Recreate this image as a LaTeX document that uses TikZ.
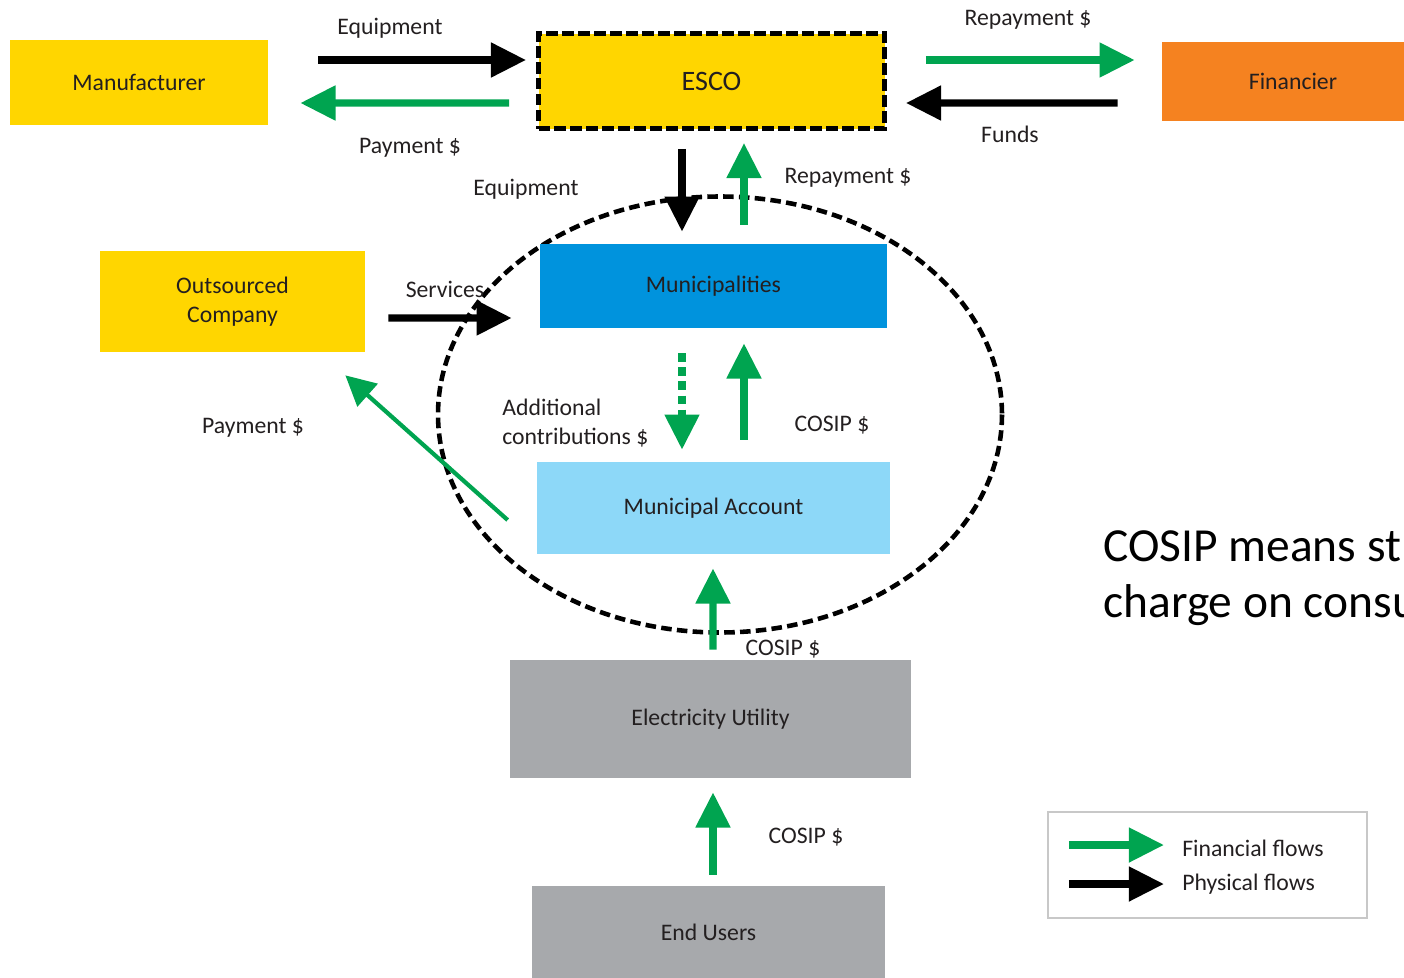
\documentclass[tikz,border=0pt]{standalone}
\usepackage{fontspec}
\setmainfont{Carlito}
\usetikzlibrary{arrows.meta}
\definecolor{boxyellow}{RGB}{255,214,0}
\definecolor{finorange}{RGB}{245,130,32}
\definecolor{cityblue}{RGB}{0,147,221}
\definecolor{acctblue}{RGB}{141,216,248}
\definecolor{utilgray}{RGB}{167,169,172}
\definecolor{flowgreen}{RGB}{0,164,80}
\definecolor{ink}{RGB}{35,31,32}
\definecolor{legendgray}{RGB}{200,200,200}
\newlength\pxu
\setlength\pxu{0.2mm}
\newcommand\lbl{\fontsize{13.5}{16.5}\selectfont}
\tikzstyle{entity} = [rectangle, inner sep=0pt, align=center, text=ink, font=\lbl]
\tikzstyle{flowlabel} = [inner sep=0pt, align=left, text=ink, font=\lbl]
\tikzstyle{finArrow} = [draw=flowgreen, line width=4pt, -{Triangle[length=20pt,width=19pt]}]
\tikzstyle{phyArrow} = [draw=black, line width=4pt, -{Triangle[length=20pt,width=19pt]}]
\tikzstyle{thinFin} = [draw=flowgreen, line width=2.4pt, -{Triangle[length=17pt,width=17pt]}]
\tikzstyle{escoBorder} = [draw=black, line width=2.8pt, dash pattern=on 6.5pt off 2.6pt]
\tikzstyle{cityRing} = [draw=black, line width=2.6pt, dash pattern=on 6pt off 3pt]

\begin{document}
\begin{tikzpicture}[x=0.2mm, y=-0.2mm]
  \useasboundingbox (0,0) rectangle (1404,978);
  \clip (0,0) rectangle (1404,978);

  % municipality ring
  \draw[cityRing] (720,414.5) ellipse [x radius=282, y radius=218];

  % boxes
  \node[entity, fill=boxyellow, minimum width=258\pxu, minimum height=85\pxu] (manu) at (139,82.5) {Manufacturer};
  \node[entity, fill=boxyellow, escoBorder, minimum width=346\pxu, minimum height=95\pxu, font=\fontsize{16}{19}\selectfont] (esco) at (711.5,81) {ESCO};
  \node[entity, fill=finorange, minimum width=262\pxu, minimum height=79\pxu] (fin) at (1293,81.5) {Financier};
  \node[entity, fill=boxyellow, minimum width=265\pxu, minimum height=101\pxu] (outs) at (232.5,301.5) {Outsourced\\Company};
  \node[entity, fill=cityblue, minimum width=347\pxu, minimum height=84\pxu] (mun) at (713.5,286) {Municipalities};
  \node[entity, fill=acctblue, minimum width=353\pxu, minimum height=92\pxu] (acct) at (713.5,508) {Municipal Account};
  \node[entity, fill=utilgray, minimum width=401\pxu, minimum height=118\pxu] (util) at (710.5,719) {Electricity Utility};
  \node[entity, fill=utilgray, minimum width=353\pxu, minimum height=92\pxu] (users) at (708.5,932) {End Users};

  % flows along the top row
  \draw[phyArrow] ([xshift=50\pxu,yshift=22.5\pxu]manu.east) -- ([xshift=-10\pxu,yshift=21\pxu]esco.west);
  \draw[finArrow] ([xshift=-27\pxu,yshift=-22\pxu]esco.west) -- ([xshift=32\pxu,yshift=-20.5\pxu]manu.east);
  \draw[finArrow] ([xshift=39\pxu,yshift=21\pxu]esco.east) -- ([xshift=-27\pxu,yshift=21.5\pxu]fin.west);
  \draw[phyArrow] ([xshift=-44\pxu,yshift=-21.5\pxu]fin.west) -- ([xshift=19\pxu,yshift=-22\pxu]esco.east);

  % flows inside the ring
  \draw[phyArrow] ([xshift=-29.5\pxu,yshift=-18\pxu]esco.south) -- ([xshift=-31.5\pxu,yshift=12\pxu]mun.north);
  \draw[finArrow] ([xshift=30.5\pxu,yshift=19\pxu]mun.north) -- ([xshift=32.5\pxu,yshift=-12\pxu]esco.south);
  \draw[phyArrow] ([xshift=23\pxu,yshift=-16.5\pxu]outs.east) -- ([xshift=-28\pxu,yshift=-32\pxu]mun.west);
  \draw[finArrow, dash pattern=on 5pt off 3pt] ([xshift=-31.5\pxu,yshift=-25\pxu]mun.south) -- ([xshift=-31.5\pxu,yshift=12\pxu]acct.north);
  \draw[finArrow] ([xshift=30.5\pxu,yshift=22\pxu]acct.north) -- ([xshift=30.5\pxu,yshift=-15\pxu]mun.south);
  \draw[thinFin] ([xshift=-29\pxu,yshift=-12\pxu]acct.west) -- ([xshift=-20\pxu,yshift=-23\pxu]outs.south east);

  % flows from below
  \draw[finArrow] ([xshift=2.5\pxu,yshift=10\pxu]util.north) -- ([xshift=-0.5\pxu,yshift=-14\pxu]acct.south);
  \draw[finArrow] ([xshift=4.5\pxu,yshift=11\pxu]users.north) -- ([xshift=2.5\pxu,yshift=-14\pxu]util.south);

  % labels
  \node[flowlabel] (eqTop) at (390,28) {Equipment};
  \node[flowlabel] (payTop) at (410,148) {Payment \$};
  \node[flowlabel] (repTop) at (1028,20) {Repayment \$};
  \node[flowlabel] (funds) at (1010,134) {Funds};
  \node[flowlabel] (eqMid) at (526,189) {Equipment};
  \node[flowlabel] (repMid) at (848,178) {Repayment \$};
  \node[flowlabel] (serv) at (445,289) {Services};
  \node[flowlabel, anchor=west] (addc) at (502,423) {Additional\\contributions \$};
  \node[flowlabel] (cosipA) at (832,425) {COSIP \$};
  \node[flowlabel] (payLeft) at (253,428) {Payment \$};
  \node[flowlabel] (cosipB) at (783,649) {COSIP \$};
  \node[flowlabel] (cosipC) at (806,837) {COSIP \$};

  % legend
  \node[draw=legendgray, line width=1.2pt, minimum width=319\pxu, minimum height=106\pxu, inner sep=0pt] (legend) at (1207.5,865) {};
  \draw[finArrow] ([xshift=22\pxu,yshift=20\pxu]legend.west) -- ([xshift=117\pxu,yshift=20\pxu]legend.west);
  \draw[phyArrow] ([xshift=22\pxu,yshift=-19\pxu]legend.west) -- ([xshift=117\pxu,yshift=-19\pxu]legend.west);
  \node[flowlabel, anchor=west] (finKey) at ([xshift=135\pxu,yshift=17\pxu]legend.west) {Financial flows};
  \node[flowlabel, anchor=west] (phyKey) at ([xshift=135\pxu,yshift=-19\pxu]legend.west) {Physical flows};

  % note on the right
  \node[anchor=north west, inner sep=0pt, align=left, font=\fontsize{27}{32}\selectfont] (note) at (1103,530) {COSIP means st\\charge on consu};
\end{tikzpicture}
\end{document}
